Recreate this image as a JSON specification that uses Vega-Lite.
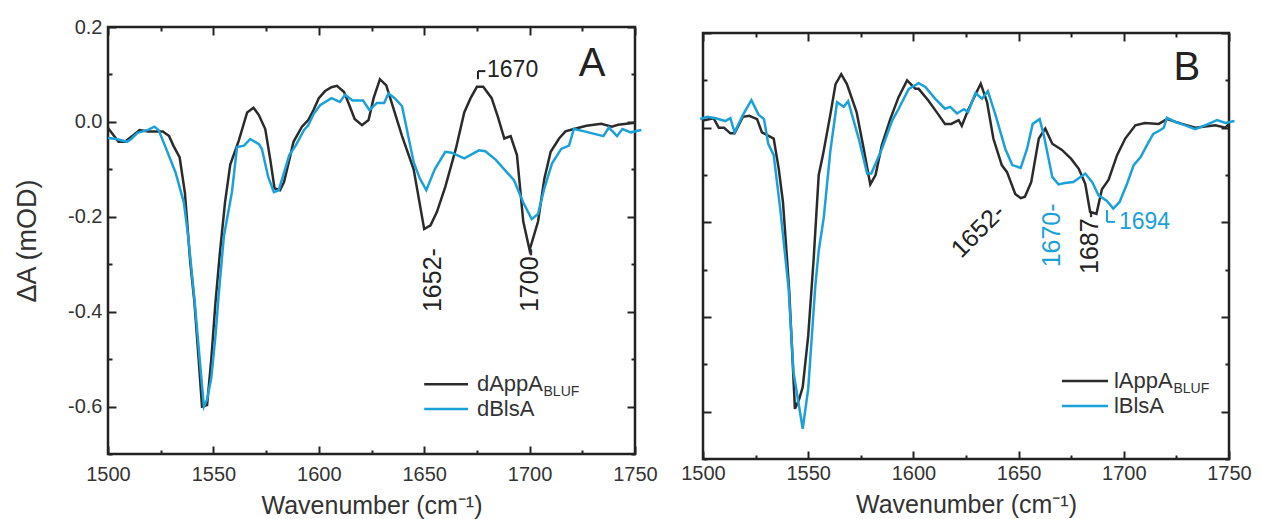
{
  "$schema": "https://vega.github.io/schema/vega-lite/v6.json",
  "padding": {"left": 12, "top": 15, "right": 5, "bottom": 5},
  "spacing": 68,
  "bounds": "flush",
  "config": {
    "view": {"stroke": "#222", "strokeWidth": 2.5},
    "font": "Liberation Sans",
    "axis": {
      "domain": false, "grid": false, "tickColor": "#222", "tickWidth": 2,
      "labelFont": "Liberation Sans", "labelFontSize": 20, "labelColor": "#333",
      "titleFont": "Liberation Sans", "titleFontSize": 25, "titleFontWeight": "normal", "titleColor": "#333",
      "labelOverlap": false, "labelFlush": false
    },
    "text": {"font": "Liberation Sans", "color": "#222"}
  },
  "datasets": {
    "A": [
      {"s":"dAppA","wn":1500,"v":-0.013},{"s":"dAppA","wn":1505,"v":-0.042},{"s":"dAppA","wn":1508,"v":-0.042},{"s":"dAppA","wn":1512,"v":-0.028},{"s":"dAppA","wn":1515,"v":-0.017},{"s":"dAppA","wn":1519,"v":-0.02},{"s":"dAppA","wn":1526,"v":-0.02},{"s":"dAppA","wn":1529,"v":-0.03},{"s":"dAppA","wn":1531,"v":-0.05},{"s":"dAppA","wn":1534,"v":-0.075},{"s":"dAppA","wn":1536.5,"v":-0.15},{"s":"dAppA","wn":1539,"v":-0.295},{"s":"dAppA","wn":1541,"v":-0.38},{"s":"dAppA","wn":1543,"v":-0.5},{"s":"dAppA","wn":1544.6,"v":-0.6},{"s":"dAppA","wn":1547,"v":-0.597},{"s":"dAppA","wn":1549,"v":-0.5},{"s":"dAppA","wn":1551,"v":-0.38},{"s":"dAppA","wn":1553,"v":-0.28},{"s":"dAppA","wn":1555.5,"v":-0.17},{"s":"dAppA","wn":1558,"v":-0.09},{"s":"dAppA","wn":1562,"v":-0.04},{"s":"dAppA","wn":1566,"v":0.02},{"s":"dAppA","wn":1569,"v":0.03},{"s":"dAppA","wn":1571.5,"v":0.015},{"s":"dAppA","wn":1574.6,"v":-0.015},{"s":"dAppA","wn":1577,"v":-0.08},{"s":"dAppA","wn":1579,"v":-0.14},{"s":"dAppA","wn":1581.6,"v":-0.144},{"s":"dAppA","wn":1583.5,"v":-0.127},{"s":"dAppA","wn":1586,"v":-0.08},{"s":"dAppA","wn":1588,"v":-0.042},{"s":"dAppA","wn":1592,"v":-0.01},{"s":"dAppA","wn":1595,"v":0.004},{"s":"dAppA","wn":1597.5,"v":0.025},{"s":"dAppA","wn":1600,"v":0.05},{"s":"dAppA","wn":1603,"v":0.065},{"s":"dAppA","wn":1606,"v":0.073},{"s":"dAppA","wn":1608.6,"v":0.076},{"s":"dAppA","wn":1612,"v":0.063},{"s":"dAppA","wn":1614.5,"v":0.035},{"s":"dAppA","wn":1617,"v":0.006},{"s":"dAppA","wn":1620.5,"v":-0.007},{"s":"dAppA","wn":1623.6,"v":0.004},{"s":"dAppA","wn":1626,"v":0.05},{"s":"dAppA","wn":1629,"v":0.09},{"s":"dAppA","wn":1632,"v":0.077},{"s":"dAppA","wn":1636,"v":0.02},{"s":"dAppA","wn":1639.5,"v":-0.03},{"s":"dAppA","wn":1645,"v":-0.1},{"s":"dAppA","wn":1650,"v":-0.226},{"s":"dAppA","wn":1653,"v":-0.218},{"s":"dAppA","wn":1656,"v":-0.19},{"s":"dAppA","wn":1660,"v":-0.137},{"s":"dAppA","wn":1665,"v":-0.057},{"s":"dAppA","wn":1669,"v":0.02},{"s":"dAppA","wn":1672,"v":0.05},{"s":"dAppA","wn":1675,"v":0.074},{"s":"dAppA","wn":1678,"v":0.074},{"s":"dAppA","wn":1682,"v":0.05},{"s":"dAppA","wn":1685,"v":0.01},{"s":"dAppA","wn":1688,"v":-0.035},{"s":"dAppA","wn":1691,"v":-0.03},{"s":"dAppA","wn":1694,"v":-0.07},{"s":"dAppA","wn":1697,"v":-0.21},{"s":"dAppA","wn":1700,"v":-0.27},{"s":"dAppA","wn":1704,"v":-0.21},{"s":"dAppA","wn":1707,"v":-0.12},{"s":"dAppA","wn":1710,"v":-0.063},{"s":"dAppA","wn":1714,"v":-0.035},{"s":"dAppA","wn":1717,"v":-0.02},{"s":"dAppA","wn":1721,"v":-0.015},{"s":"dAppA","wn":1727,"v":-0.008},{"s":"dAppA","wn":1734,"v":-0.004},{"s":"dAppA","wn":1739,"v":-0.01},{"s":"dAppA","wn":1742,"v":-0.006},{"s":"dAppA","wn":1746,"v":-0.004},{"s":"dAppA","wn":1750,"v":-0.002},
      {"s":"dBlsA","wn":1500,"v":-0.034},{"s":"dBlsA","wn":1504,"v":-0.036},{"s":"dBlsA","wn":1509,"v":-0.042},{"s":"dBlsA","wn":1511,"v":-0.036},{"s":"dBlsA","wn":1514,"v":-0.023},{"s":"dBlsA","wn":1519,"v":-0.017},{"s":"dBlsA","wn":1522,"v":-0.01},{"s":"dBlsA","wn":1524,"v":-0.017},{"s":"dBlsA","wn":1527,"v":-0.05},{"s":"dBlsA","wn":1532,"v":-0.106},{"s":"dBlsA","wn":1536,"v":-0.17},{"s":"dBlsA","wn":1538,"v":-0.24},{"s":"dBlsA","wn":1541,"v":-0.373},{"s":"dBlsA","wn":1543.5,"v":-0.5},{"s":"dBlsA","wn":1545.5,"v":-0.6},{"s":"dBlsA","wn":1547,"v":-0.585},{"s":"dBlsA","wn":1549,"v":-0.54},{"s":"dBlsA","wn":1551,"v":-0.45},{"s":"dBlsA","wn":1552.6,"v":-0.36},{"s":"dBlsA","wn":1555,"v":-0.24},{"s":"dBlsA","wn":1558.8,"v":-0.148},{"s":"dBlsA","wn":1561.2,"v":-0.053},{"s":"dBlsA","wn":1564.5,"v":-0.05},{"s":"dBlsA","wn":1567.5,"v":-0.036},{"s":"dBlsA","wn":1571.6,"v":-0.047},{"s":"dBlsA","wn":1573,"v":-0.057},{"s":"dBlsA","wn":1576,"v":-0.116},{"s":"dBlsA","wn":1578.7,"v":-0.148},{"s":"dBlsA","wn":1581,"v":-0.144},{"s":"dBlsA","wn":1586,"v":-0.07},{"s":"dBlsA","wn":1589,"v":-0.05},{"s":"dBlsA","wn":1593,"v":-0.017},{"s":"dBlsA","wn":1595,"v":-0.007},{"s":"dBlsA","wn":1597.6,"v":0.017},{"s":"dBlsA","wn":1600.6,"v":0.035},{"s":"dBlsA","wn":1606,"v":0.05},{"s":"dBlsA","wn":1610,"v":0.042},{"s":"dBlsA","wn":1612.5,"v":0.057},{"s":"dBlsA","wn":1616,"v":0.045},{"s":"dBlsA","wn":1621,"v":0.045},{"s":"dBlsA","wn":1624,"v":0.025},{"s":"dBlsA","wn":1627.6,"v":0.04},{"s":"dBlsA","wn":1631,"v":0.04},{"s":"dBlsA","wn":1633,"v":0.06},{"s":"dBlsA","wn":1636,"v":0.05},{"s":"dBlsA","wn":1639.5,"v":0.033},{"s":"dBlsA","wn":1645,"v":-0.085},{"s":"dBlsA","wn":1648,"v":-0.12},{"s":"dBlsA","wn":1651,"v":-0.144},{"s":"dBlsA","wn":1655,"v":-0.1},{"s":"dBlsA","wn":1660,"v":-0.063},{"s":"dBlsA","wn":1663,"v":-0.065},{"s":"dBlsA","wn":1669,"v":-0.077},{"s":"dBlsA","wn":1676,"v":-0.06},{"s":"dBlsA","wn":1679,"v":-0.062},{"s":"dBlsA","wn":1684,"v":-0.08},{"s":"dBlsA","wn":1690,"v":-0.11},{"s":"dBlsA","wn":1692.6,"v":-0.123},{"s":"dBlsA","wn":1697,"v":-0.17},{"s":"dBlsA","wn":1701,"v":-0.205},{"s":"dBlsA","wn":1704,"v":-0.194},{"s":"dBlsA","wn":1707,"v":-0.14},{"s":"dBlsA","wn":1710.6,"v":-0.088},{"s":"dBlsA","wn":1715,"v":-0.057},{"s":"dBlsA","wn":1718.7,"v":-0.05},{"s":"dBlsA","wn":1721,"v":-0.015},{"s":"dBlsA","wn":1726,"v":-0.02},{"s":"dBlsA","wn":1735,"v":-0.03},{"s":"dBlsA","wn":1737.6,"v":-0.012},{"s":"dBlsA","wn":1741.5,"v":-0.03},{"s":"dBlsA","wn":1744,"v":-0.015},{"s":"dBlsA","wn":1748,"v":-0.022},{"s":"dBlsA","wn":1753,"v":-0.017}
    ],
    "B": [
      {"s":"lAppA","wn":1500,"v":0.015},{"s":"lAppA","wn":1505,"v":0.02},{"s":"lAppA","wn":1507.5,"v":0.0},{"s":"lAppA","wn":1510,"v":0.0},{"s":"lAppA","wn":1513,"v":-0.012},{"s":"lAppA","wn":1515,"v":-0.012},{"s":"lAppA","wn":1519,"v":0.023},{"s":"lAppA","wn":1522,"v":0.025},{"s":"lAppA","wn":1525.7,"v":0.018},{"s":"lAppA","wn":1528,"v":-0.01},{"s":"lAppA","wn":1533.6,"v":-0.023},{"s":"lAppA","wn":1536,"v":-0.087},{"s":"lAppA","wn":1538,"v":-0.157},{"s":"lAppA","wn":1539.5,"v":-0.25},{"s":"lAppA","wn":1541,"v":-0.347},{"s":"lAppA","wn":1543.7,"v":-0.594},{"s":"lAppA","wn":1545.6,"v":-0.575},{"s":"lAppA","wn":1547.4,"v":-0.548},{"s":"lAppA","wn":1550,"v":-0.44},{"s":"lAppA","wn":1552.6,"v":-0.277},{"s":"lAppA","wn":1555,"v":-0.1},{"s":"lAppA","wn":1557,"v":-0.058},{"s":"lAppA","wn":1560.5,"v":0.027},{"s":"lAppA","wn":1563,"v":0.092},{"s":"lAppA","wn":1565.7,"v":0.113},{"s":"lAppA","wn":1568.4,"v":0.092},{"s":"lAppA","wn":1573,"v":0.033},{"s":"lAppA","wn":1576.4,"v":-0.045},{"s":"lAppA","wn":1579.5,"v":-0.12},{"s":"lAppA","wn":1582,"v":-0.1},{"s":"lAppA","wn":1585,"v":-0.037},{"s":"lAppA","wn":1589,"v":0.018},{"s":"lAppA","wn":1593,"v":0.065},{"s":"lAppA","wn":1597,"v":0.1},{"s":"lAppA","wn":1601,"v":0.082},{"s":"lAppA","wn":1602.5,"v":0.082},{"s":"lAppA","wn":1607,"v":0.058},{"s":"lAppA","wn":1612,"v":0.027},{"s":"lAppA","wn":1615,"v":0.008},{"s":"lAppA","wn":1618,"v":0.008},{"s":"lAppA","wn":1621.5,"v":0.016},{"s":"lAppA","wn":1623,"v":0.004},{"s":"lAppA","wn":1626,"v":0.037},{"s":"lAppA","wn":1630,"v":0.075},{"s":"lAppA","wn":1632,"v":0.093},{"s":"lAppA","wn":1635,"v":0.054},{"s":"lAppA","wn":1638,"v":-0.023},{"s":"lAppA","wn":1642,"v":-0.079},{"s":"lAppA","wn":1644.5,"v":-0.094},{"s":"lAppA","wn":1648.4,"v":-0.14},{"s":"lAppA","wn":1651,"v":-0.149},{"s":"lAppA","wn":1653,"v":-0.146},{"s":"lAppA","wn":1656,"v":-0.115},{"s":"lAppA","wn":1659.6,"v":-0.023},{"s":"lAppA","wn":1662.7,"v":-0.002},{"s":"lAppA","wn":1666,"v":-0.034},{"s":"lAppA","wn":1670.6,"v":-0.047},{"s":"lAppA","wn":1675,"v":-0.066},{"s":"lAppA","wn":1678.6,"v":-0.087},{"s":"lAppA","wn":1681.7,"v":-0.119},{"s":"lAppA","wn":1684,"v":-0.178},{"s":"lAppA","wn":1687,"v":-0.182},{"s":"lAppA","wn":1689.6,"v":-0.13},{"s":"lAppA","wn":1692.8,"v":-0.11},{"s":"lAppA","wn":1696.8,"v":-0.058},{"s":"lAppA","wn":1700.7,"v":-0.023},{"s":"lAppA","wn":1705.5,"v":0.005},{"s":"lAppA","wn":1710,"v":0.01},{"s":"lAppA","wn":1716.6,"v":0.008},{"s":"lAppA","wn":1720.5,"v":0.018},{"s":"lAppA","wn":1727.7,"v":0.008},{"s":"lAppA","wn":1734,"v":0.0},{"s":"lAppA","wn":1743.5,"v":0.005},{"s":"lAppA","wn":1748.3,"v":0.0},{"s":"lAppA","wn":1750,"v":0.008},
      {"s":"lBlsA","wn":1498.6,"v":0.018},{"s":"lBlsA","wn":1502,"v":0.023},{"s":"lBlsA","wn":1506,"v":0.02},{"s":"lBlsA","wn":1510.6,"v":0.014},{"s":"lBlsA","wn":1513,"v":0.02},{"s":"lBlsA","wn":1515,"v":-0.01},{"s":"lBlsA","wn":1519,"v":0.027},{"s":"lBlsA","wn":1523,"v":0.058},{"s":"lBlsA","wn":1526.5,"v":0.027},{"s":"lBlsA","wn":1529,"v":0.018},{"s":"lBlsA","wn":1531,"v":-0.034},{"s":"lBlsA","wn":1533.6,"v":-0.058},{"s":"lBlsA","wn":1536.7,"v":-0.171},{"s":"lBlsA","wn":1540.7,"v":-0.34},{"s":"lBlsA","wn":1543,"v":-0.516},{"s":"lBlsA","wn":1547.4,"v":-0.636},{"s":"lBlsA","wn":1550,"v":-0.552},{"s":"lBlsA","wn":1553.4,"v":-0.333},{"s":"lBlsA","wn":1555,"v":-0.26},{"s":"lBlsA","wn":1557.4,"v":-0.19},{"s":"lBlsA","wn":1560.5,"v":-0.05},{"s":"lBlsA","wn":1563.7,"v":0.054},{"s":"lBlsA","wn":1566.9,"v":0.044},{"s":"lBlsA","wn":1569,"v":0.056},{"s":"lBlsA","wn":1574,"v":-0.023},{"s":"lBlsA","wn":1578,"v":-0.097},{"s":"lBlsA","wn":1580,"v":-0.097},{"s":"lBlsA","wn":1585,"v":-0.045},{"s":"lBlsA","wn":1590,"v":0.016},{"s":"lBlsA","wn":1593,"v":0.04},{"s":"lBlsA","wn":1597.8,"v":0.082},{"s":"lBlsA","wn":1602.5,"v":0.094},{"s":"lBlsA","wn":1605.7,"v":0.086},{"s":"lBlsA","wn":1610.4,"v":0.061},{"s":"lBlsA","wn":1615,"v":0.04},{"s":"lBlsA","wn":1617.5,"v":0.044},{"s":"lBlsA","wn":1620.7,"v":0.03},{"s":"lBlsA","wn":1624,"v":0.039},{"s":"lBlsA","wn":1626,"v":0.033},{"s":"lBlsA","wn":1629.5,"v":0.073},{"s":"lBlsA","wn":1632.6,"v":0.061},{"s":"lBlsA","wn":1635.4,"v":0.077},{"s":"lBlsA","wn":1639,"v":0.027},{"s":"lBlsA","wn":1643.7,"v":-0.045},{"s":"lBlsA","wn":1647,"v":-0.079},{"s":"lBlsA","wn":1651,"v":-0.085},{"s":"lBlsA","wn":1654,"v":-0.045},{"s":"lBlsA","wn":1656.7,"v":0.008},{"s":"lBlsA","wn":1660,"v":0.018},{"s":"lBlsA","wn":1662,"v":-0.016},{"s":"lBlsA","wn":1666,"v":-0.104},{"s":"lBlsA","wn":1669,"v":-0.12},{"s":"lBlsA","wn":1672,"v":-0.117},{"s":"lBlsA","wn":1676,"v":-0.115},{"s":"lBlsA","wn":1681.7,"v":-0.097},{"s":"lBlsA","wn":1685,"v":-0.115},{"s":"lBlsA","wn":1688,"v":-0.143},{"s":"lBlsA","wn":1692,"v":-0.155},{"s":"lBlsA","wn":1695,"v":-0.171},{"s":"lBlsA","wn":1698,"v":-0.157},{"s":"lBlsA","wn":1701.5,"v":-0.119},{"s":"lBlsA","wn":1704.7,"v":-0.079},{"s":"lBlsA","wn":1708,"v":-0.062},{"s":"lBlsA","wn":1711,"v":-0.037},{"s":"lBlsA","wn":1714,"v":-0.013},{"s":"lBlsA","wn":1717.4,"v":-0.005},{"s":"lBlsA","wn":1719,"v":0.0},{"s":"lBlsA","wn":1720.5,"v":0.021},{"s":"lBlsA","wn":1724.5,"v":0.012},{"s":"lBlsA","wn":1728.5,"v":0.006},{"s":"lBlsA","wn":1734,"v":-0.003},{"s":"lBlsA","wn":1740.3,"v":0.008},{"s":"lBlsA","wn":1744.3,"v":0.016},{"s":"lBlsA","wn":1748.3,"v":0.01},{"s":"lBlsA","wn":1752.6,"v":0.014}
    ]
  },
  "hconcat": [
    {
      "width": 527, "height": 427,
      "resolve": {"axis": {"x": "independent", "y": "independent"}},
      "layer": [
        {
          "data": {"name": "A"},
          "mark": {"type": "line", "strokeWidth": 2.5, "clip": false},
          "encoding": {
            "x": {"field": "wn", "type": "quantitative", "scale": {"domain": [1500, 1750], "nice": false, "zero": false},
              "axis": {"orient": "bottom", "values": [1500,1525,1550,1575,1600,1625,1650,1675,1700,1725,1750], "format": "d",
                "labelExpr": "datum.value % 50 === 0 ? datum.label : ''",
                "tickSize": {"condition": {"test": "datum.value % 50 === 0", "value": -8}, "value": -4},
                "labelPadding": 18, "title": "Wavenumber (cm\u207b\u00b9)", "titlePadding": 5}},
            "y": {"field": "v", "type": "quantitative", "scale": {"domain": [-0.7, 0.2], "nice": false, "zero": false},
              "axis": {"orient": "left", "values": [-0.7,-0.6,-0.5,-0.4,-0.3,-0.2,-0.1,0,0.1,0.2],
                "labelExpr": "abs(round(datum.value*10)) % 2 == 0 ? replace(format(datum.value, '.1f'), '\u2212', '-') : ''",
                "tickSize": {"condition": {"test": "abs(round(datum.value*10)) % 2 == 0", "value": -8}, "value": -4},
                "labelPadding": 14, "title": "\u0394A (mOD)", "titleFontSize": 27, "titlePadding": 26}},
            "color": {"field": "s", "type": "nominal", "scale": {"domain": ["dAppA", "dBlsA"], "range": ["#2b2b2b", "#1ba1d8"]}, "legend": null}
          }
        },
        {
          "data": {"values": [{}]},
          "mark": {"type": "text", "text": "A", "fontSize": 40, "align": "center", "baseline": "middle"},
          "encoding": {
            "x": {"datum": 1729.6, "type": "quantitative", "axis": {"orient": "top", "labels": false, "title": null, "values": [1500,1525,1550,1575,1600,1625,1650,1675,1700,1725,1750],
              "tickSize": {"condition": {"test": "datum.value % 50 === 0", "value": -8}, "value": -4}}},
            "y": {"datum": 0.122, "type": "quantitative", "axis": {"orient": "right", "labels": false, "title": null, "values": [-0.7,-0.6,-0.5,-0.4,-0.3,-0.2,-0.1,0,0.1,0.2],
              "tickSize": {"condition": {"test": "abs(round(datum.value*10)) % 2 == 0", "value": -8}, "value": -4}}}
          }
        },
        {
          "data": {"values": [{}]},
          "mark": {"type": "text", "text": "1670", "fontSize": 23, "align": "left", "baseline": "middle"},
          "encoding": {"x": {"datum": 1679.8, "type": "quantitative", "axis": null}, "y": {"datum": 0.109, "type": "quantitative", "axis": null}}
        },
        {
          "data": {"values": [{}]},
          "mark": {"type": "rule", "color": "#222", "strokeWidth": 2},
          "encoding": {"x": {"datum": 1675.5, "type": "quantitative", "axis": null}, "y": {"datum": 0.09, "type": "quantitative", "axis": null}, "y2": {"datum": 0.107}}
        },
        {
          "data": {"values": [{}]},
          "mark": {"type": "rule", "color": "#222", "strokeWidth": 2},
          "encoding": {"x": {"datum": 1675.5, "type": "quantitative", "axis": null}, "x2": {"datum": 1679}, "y": {"datum": 0.107, "type": "quantitative", "axis": null}}
        },
        {
          "data": {"values": [{}]},
          "mark": {"type": "text", "text": "1652-", "fontSize": 25, "angle": 270, "align": "right", "baseline": "middle"},
          "encoding": {"x": {"datum": 1654.2, "type": "quantitative", "axis": null}, "y": {"datum": -0.266, "type": "quantitative", "axis": null}}
        },
        {
          "data": {"values": [{}]},
          "mark": {"type": "text", "text": "1700-", "fontSize": 25, "angle": 270, "align": "right", "baseline": "middle"},
          "encoding": {"x": {"datum": 1700.2, "type": "quantitative", "axis": null}, "y": {"datum": -0.266, "type": "quantitative", "axis": null}}
        },
        {
          "data": {"values": [{}]},
          "mark": {"type": "rule", "color": "#2b2b2b", "strokeWidth": 2.5},
          "encoding": {"x": {"datum": 1650, "type": "quantitative", "axis": null}, "x2": {"datum": 1670.8}, "y": {"datum": -0.553, "type": "quantitative", "axis": null}}
        },
        {
          "data": {"values": [{}]},
          "mark": {"type": "rule", "color": "#1ba1d8", "strokeWidth": 2.5},
          "encoding": {"x": {"datum": 1650, "type": "quantitative", "axis": null}, "x2": {"datum": 1670.8}, "y": {"datum": -0.605, "type": "quantitative", "axis": null}}
        },
        {
          "data": {"values": [{}]},
          "mark": {"type": "text", "text": "dAppA", "fontSize": 22, "align": "left", "baseline": "middle", "color": "#333"},
          "encoding": {"x": {"datum": 1675, "type": "quantitative", "axis": null}, "y": {"datum": -0.553, "type": "quantitative", "axis": null}}
        },
        {
          "data": {"values": [{}]},
          "mark": {"type": "text", "text": "BLUF", "fontSize": 14, "align": "left", "baseline": "middle", "color": "#333"},
          "encoding": {"x": {"datum": 1706.6, "type": "quantitative", "axis": null}, "y": {"datum": -0.569, "type": "quantitative", "axis": null}}
        },
        {
          "data": {"values": [{}]},
          "mark": {"type": "text", "text": "dBlsA", "fontSize": 22, "align": "left", "baseline": "middle", "color": "#333"},
          "encoding": {"x": {"datum": 1675, "type": "quantitative", "axis": null}, "y": {"datum": -0.605, "type": "quantitative", "axis": null}}
        }
      ]
    },
    {
      "spacing": 5,
      "bounds": "flush",
      "vconcat": [
        {
          "width": 526, "height": 1,
          "view": {"stroke": null},
          "data": {"values": []},
          "mark": {"type": "point", "opacity": 0},
          "encoding": {}
        },
        {
          "width": 526, "height": 426,
          "resolve": {"axis": {"x": "independent", "y": "independent"}},
          "layer": [
            {
              "data": {"name": "B"},
              "mark": {"type": "line", "strokeWidth": 2.5, "clip": false},
              "encoding": {
                "x": {"field": "wn", "type": "quantitative", "scale": {"domain": [1500, 1750], "nice": false, "zero": false},
                  "axis": {"orient": "bottom", "values": [1500,1525,1550,1575,1600,1625,1650,1675,1700,1725,1750], "format": "d",
                    "labelExpr": "datum.value % 50 === 0 ? datum.label : ''",
                    "tickSize": {"condition": {"test": "datum.value % 50 === 0", "value": -8}, "value": -4},
                    "labelPadding": 12, "title": "Wavenumber (cm\u207b\u00b9)", "titlePadding": 5}},
                "y": {"field": "v", "type": "quantitative", "scale": {"domain": [-0.7, 0.2], "nice": false, "zero": false},
                  "axis": {"orient": "left", "values": [-0.7,-0.6,-0.5,-0.4,-0.3,-0.2,-0.1,0,0.1,0.2], "labels": false, "title": null,
                    "tickSize": {"condition": {"test": "abs(round(datum.value*10)) % 2 == 0", "value": -8}, "value": -4}}},
                "color": {"field": "s", "type": "nominal", "scale": {"domain": ["lAppA", "lBlsA"], "range": ["#2b2b2b", "#1ba1d8"]}, "legend": null}
              }
            },
            {
              "data": {"values": [{}]},
              "mark": {"type": "text", "text": "B", "fontSize": 40, "align": "center", "baseline": "middle"},
              "encoding": {
                "x": {"datum": 1730, "type": "quantitative", "axis": {"orient": "top", "labels": false, "title": null, "values": [1500,1525,1550,1575,1600,1625,1650,1675,1700,1725,1750],
                  "tickSize": {"condition": {"test": "datum.value % 50 === 0", "value": -8}, "value": -4}}},
                "y": {"datum": 0.126, "type": "quantitative", "axis": {"orient": "right", "labels": false, "title": null, "values": [-0.7,-0.6,-0.5,-0.4,-0.3,-0.2,-0.1,0,0.1,0.2],
                  "tickSize": {"condition": {"test": "abs(round(datum.value*10)) % 2 == 0", "value": -8}, "value": -4}}}
              }
            },
            {
              "data": {"values": [{}]},
              "mark": {"type": "text", "text": "1652-", "fontSize": 25, "angle": 315, "align": "right", "baseline": "middle", "color": "#222"},
              "encoding": {"x": {"datum": 1641.5, "type": "quantitative", "axis": null}, "y": {"datum": -0.17, "type": "quantitative", "axis": null}}
            },
            {
              "data": {"values": [{}]},
              "mark": {"type": "text", "text": "1670-", "fontSize": 25, "angle": 270, "align": "right", "baseline": "middle", "color": "#1ba1d8"},
              "encoding": {"x": {"datum": 1665.9, "type": "quantitative", "axis": null}, "y": {"datum": -0.16, "type": "quantitative", "axis": null}}
            },
            {
              "data": {"values": [{}]},
              "mark": {"type": "text", "text": "1687-", "fontSize": 25, "angle": 270, "align": "right", "baseline": "middle", "color": "#222"},
              "encoding": {"x": {"datum": 1683.9, "type": "quantitative", "axis": null}, "y": {"datum": -0.174, "type": "quantitative", "axis": null}}
            },
            {
              "data": {"values": [{}]},
              "mark": {"type": "text", "text": "1694", "fontSize": 23, "align": "left", "baseline": "middle", "color": "#1ba1d8"},
              "encoding": {"x": {"datum": 1697.7, "type": "quantitative", "axis": null}, "y": {"datum": -0.199, "type": "quantitative", "axis": null}}
            },
            {
              "data": {"values": [{}]},
              "mark": {"type": "rule", "color": "#1ba1d8", "strokeWidth": 2},
              "encoding": {"x": {"datum": 1692, "type": "quantitative", "axis": null}, "y": {"datum": -0.174, "type": "quantitative", "axis": null}, "y2": {"datum": -0.199}}
            },
            {
              "data": {"values": [{}]},
              "mark": {"type": "rule", "color": "#1ba1d8", "strokeWidth": 2},
              "encoding": {"x": {"datum": 1692, "type": "quantitative", "axis": null}, "x2": {"datum": 1695.8}, "y": {"datum": -0.199, "type": "quantitative", "axis": null}}
            },
            {
              "data": {"values": [{}]},
              "mark": {"type": "rule", "color": "#2b2b2b", "strokeWidth": 2.5},
              "encoding": {"x": {"datum": 1670.6, "type": "quantitative", "axis": null}, "x2": {"datum": 1692.5}, "y": {"datum": -0.535, "type": "quantitative", "axis": null}}
            },
            {
              "data": {"values": [{}]},
              "mark": {"type": "rule", "color": "#1ba1d8", "strokeWidth": 2.5},
              "encoding": {"x": {"datum": 1670.6, "type": "quantitative", "axis": null}, "x2": {"datum": 1692.5}, "y": {"datum": -0.588, "type": "quantitative", "axis": null}}
            },
            {
              "data": {"values": [{}]},
              "mark": {"type": "text", "text": "lAppA", "fontSize": 22, "align": "left", "baseline": "middle", "color": "#333"},
              "encoding": {"x": {"datum": 1695.3, "type": "quantitative", "axis": null}, "y": {"datum": -0.535, "type": "quantitative", "axis": null}}
            },
            {
              "data": {"values": [{}]},
              "mark": {"type": "text", "text": "BLUF", "fontSize": 14, "align": "left", "baseline": "middle", "color": "#333"},
              "encoding": {"x": {"datum": 1723.6, "type": "quantitative", "axis": null}, "y": {"datum": -0.552, "type": "quantitative", "axis": null}}
            },
            {
              "data": {"values": [{}]},
              "mark": {"type": "text", "text": "lBlsA", "fontSize": 22, "align": "left", "baseline": "middle", "color": "#333"},
              "encoding": {"x": {"datum": 1695.3, "type": "quantitative", "axis": null}, "y": {"datum": -0.588, "type": "quantitative", "axis": null}}
            }
          ]
        }
      ]
    }
  ]
}
